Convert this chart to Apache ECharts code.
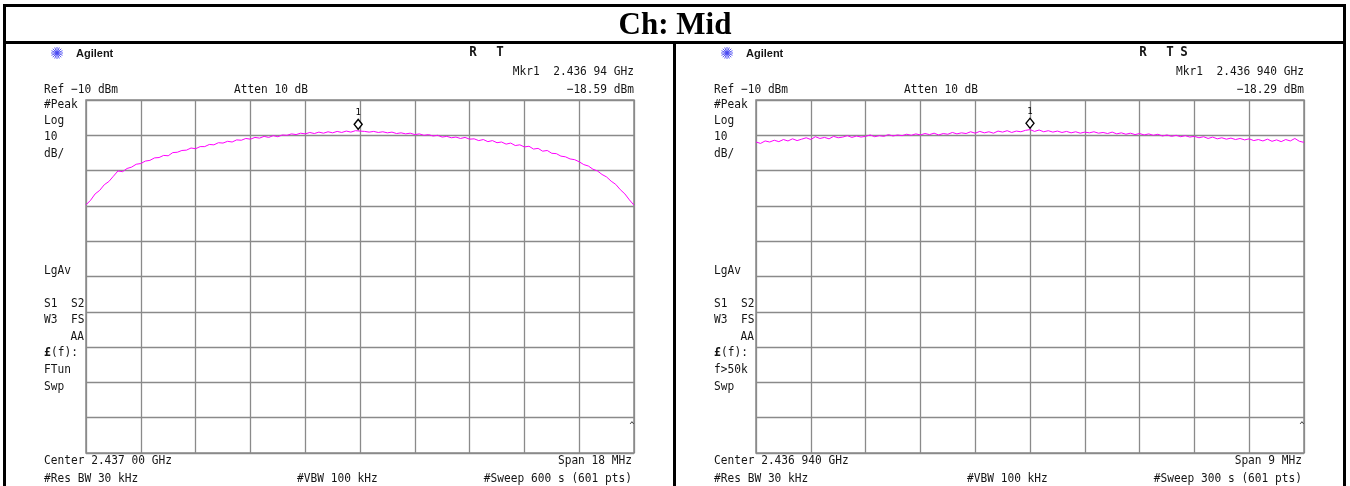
<!DOCTYPE html>
<html>
<head>
<meta charset="utf-8">
<script src="https://cdn.jsdelivr.net/npm/echarts@6/dist/echarts.min.js"></script>
<style>
  html, body { margin: 0; padding: 0; background: #fff; }
  #chart { width: 1350px; height: 486px; }
</style>
</head>
<body>
<div id="chart"></div>
<script>
// Spectrum analyzer sweeps, channel Mid. 601-point sweeps, one stored sample every 5 points.
const sweepPoints = 601;
const sampleStep = 5;

// Left sweep: span 18 MHz, trace levels in dBm
const leftTrace = [
  -39.7, -38.4, -36.6, -35.6, -34.0, -33.1, -31.6, -30.1, -30.3, -29.4,
  -29.0, -28.2, -28.0, -27.3, -27.1, -26.4, -26.3, -25.7, -25.8, -24.9,
  -24.8, -24.3, -24.2, -23.6, -23.8, -23.2, -23.2, -22.6, -22.7, -22.1,
  -22.2, -21.7, -21.9, -21.3, -21.4, -20.9, -21.1, -20.6, -20.8, -20.3,
  -20.6, -20.1, -20.4, -19.9, -20.0, -19.6, -19.8, -19.4, -19.6, -19.2,
  -19.5, -19.1, -19.4, -19.0, -19.3, -18.9, -19.2, -18.8, -19.1, -18.7,
  -18.8, -18.9, -19.1, -18.9, -19.2, -19.0, -19.3, -19.1, -19.5, -19.3,
  -19.6, -19.4, -19.8, -19.6, -20.0, -19.8, -20.2, -20.0, -20.5, -20.3,
  -20.7, -20.5, -20.9, -20.6, -21.1, -21.0, -21.5, -21.2, -21.8, -21.5,
  -22.1, -21.9, -22.5, -22.2, -22.9, -22.7, -23.3, -23.1, -23.9, -23.7,
  -24.5, -24.3, -25.1, -25.2, -25.9, -26.1, -26.7, -26.9, -27.5, -28.3,
  -28.7, -29.6, -30.1, -31.1, -31.8, -33.0, -33.9, -35.4, -36.6, -38.3,
  -39.8
];

// Right sweep: span 9 MHz, trace levels in dBm
const rightTrace = [
  -21.9, -22.3, -21.6, -21.9, -21.4, -21.8, -21.2, -21.6, -21.0, -21.5,
  -21.1, -20.7, -21.2, -20.4, -20.9, -20.6, -21.0, -20.3, -20.7, -20.5,
  -20.1, -20.6, -20.2, -20.5, -20.3, -19.9, -20.4, -20.1, -20.3, -19.8,
  -20.2, -19.9, -20.1, -19.7, -20.0, -19.6, -19.9, -19.5, -19.8, -19.4,
  -19.9, -19.5, -19.7, -19.2, -19.6, -19.3, -19.5, -19.0, -19.4, -18.9,
  -19.3, -19.0, -19.4, -18.8, -19.1, -18.7, -19.2, -18.8, -19.0, -18.6,
  -18.4, -18.9, -18.5, -19.0, -18.7, -19.1, -18.8, -19.2, -18.9, -19.3,
  -19.0, -19.4, -19.1, -19.3, -19.0, -19.4, -19.2, -19.5, -19.1, -19.6,
  -19.3, -19.7, -19.4, -19.8, -19.5, -19.9, -19.6, -20.0, -19.7, -20.2,
  -19.9, -20.3, -20.0, -20.4, -20.1, -20.5, -20.3, -20.7, -20.4, -20.9,
  -20.5, -21.0, -20.7, -21.1, -20.8, -21.2, -20.9, -21.3, -21.0, -21.5,
  -21.2, -21.6, -21.1, -21.7, -21.3, -21.8, -21.2, -21.6, -20.9, -21.7,
  -22.0
];

// Marker 1 readouts: sweep point and level (dBm)
const leftMarker = { point: 298, level: -18.59 };
const rightMarker = { point: 300, level: -18.29 };

// Display scale
const refLevel = -10;
const dbPerDiv = 10;
const divisions = 10;

// Annotation texts per panel
const leftInfo = {
  status: ['R', 'T'],
  mkrFreq: 'Mkr1  2.436 94 GHz',
  mkrLevel: '\u221218.59 dBm',
  func: 'FTun',
  center: 'Center 2.437 00 GHz',
  span: 'Span 18 MHz',
  sweep: '#Sweep 600 s (601 pts)'
};
const rightInfo = {
  status: ['R', 'T', 'S'],
  mkrFreq: 'Mkr1  2.436 940 GHz',
  mkrLevel: '\u221218.29 dBm',
  func: 'f>50k',
  center: 'Center 2.436 940 GHz',
  span: 'Span 9 MHz',
  sweep: '#Sweep 300 s (601 pts)'
};

const MONO = '11.2px "DejaVu Sans Mono", "Liberation Mono", monospace';
const INK = '#151515';
const GRID = '#8a8a8a';

function toSeries(values) {
  return values.map((v, i) => [i * sampleStep, v]);
}

function txt(x, y, text, opts) {
  opts = opts || {};
  return {
    type: 'text', silent: true,
    scaleY: opts.scaleY || 1.12,
    originX: x, originY: y,
    style: {
      x: x, y: y, text: text,
      font: opts.font || MONO,
      fill: opts.fill || INK,
      align: opts.align || 'left', textAlign: opts.align || 'left',
      verticalAlign: 'middle', textVerticalAlign: 'middle'
    }
  };
}

// Blue starburst logo
function star(cx, cy) {
  const spokes = [];
  const n = 8, r = 6;
  for (let k = 0; k < n; k++) {
    const a = Math.PI * k / n;
    const dx = Math.cos(a) * r, dy = Math.sin(a) * r;
    spokes.push({
      type: 'line', silent: true,
      shape: { x1: cx - dx, y1: cy - dy, x2: cx + dx, y2: cy + dy },
      style: { stroke: '#4a4af2', lineWidth: 0.9 }
    });
  }
  return spokes;
}

function panelGraphics(dx, info, gridLeft) {
  const g = [];
  g.push(...star(57 + dx, 53));
  g.push(txt(76 + dx, 54, 'Agilent', { font: 'bold 11px "Liberation Sans", Arial, sans-serif', scaleY: 1 }));
  // status letters
  const statusX = [473, 500, 514];
  info.status.forEach((s, i) => {
    g.push(txt(statusX[i] + dx, 52, s, { font: 'bold 12.5px "DejaVu Sans Mono", monospace', align: 'center' }));
  });
  g.push(txt(634 + dx, 72, info.mkrFreq, { align: 'right' }));
  g.push(txt(634 + dx, 90, info.mkrLevel, { align: 'right' }));
  g.push(txt(44 + dx, 90, 'Ref \u221210 dBm'));
  g.push(txt(234 + dx, 90, 'Atten 10 dB'));
  g.push(txt(44 + dx, 105, '#Peak'));
  g.push(txt(44 + dx, 121, 'Log'));
  g.push(txt(44 + dx, 137, '10'));
  g.push(txt(44 + dx, 154, 'dB/'));
  g.push(txt(44 + dx, 271, 'LgAv'));
  g.push(txt(44 + dx, 304, 'S1  S2'));
  g.push(txt(44 + dx, 320, 'W3  FS'));
  g.push(txt(84 + dx, 337, 'AA', { align: 'right' }));
  g.push(txt(44 + dx, 353, '\u00a3', { font: 'bold 11.5px "DejaVu Sans Mono", monospace' }));
  g.push(txt(51 + dx, 353, '(f):'));
  g.push(txt(44 + dx, 370, info.func));
  g.push(txt(44 + dx, 387, 'Swp'));
  g.push(txt(44 + dx, 461, info.center));
  g.push(txt(632 + dx, 461, info.span, { align: 'right' }));
  g.push(txt(44 + dx, 479, '#Res BW 30 kHz'));
  g.push(txt(297 + dx, 479, '#VBW 100 kHz'));
  g.push(txt(632 + dx, 479, info.sweep, { align: 'right' }));
  g.push(txt(gridLeft + 546, 426, '^', { font: '8px "DejaVu Sans Mono", monospace', align: 'center', scaleY: 1 }));
  return g;
}

function borders() {
  const rect = (x, y, w, h) => ({ type: 'rect', silent: true, shape: { x, y, width: w, height: h }, style: { fill: '#000' } });
  return [
    rect(3, 4, 1343, 3),      // top
    rect(3, 4, 3, 482),       // left
    rect(1343, 4, 3, 482),    // right
    rect(3, 41, 1343, 3),     // under title
    rect(673, 41, 3, 445)     // between panels
  ];
}

const grids = [
  { left: 86, top: 100, width: 548, height: 353 },
  { left: 756, top: 100, width: 548, height: 353 }
];

function xAxisFor(idx) {
  return {
    type: 'value', gridIndex: idx,
    min: 0, max: sweepPoints - 1, interval: (sweepPoints - 1) / divisions,
    axisLabel: { show: false }, axisTick: { show: false },
    axisLine: { show: false },
    splitLine: { show: true, lineStyle: { color: GRID, width: 1.3 } }
  };
}
function yAxisFor(idx) {
  return {
    type: 'value', gridIndex: idx,
    min: refLevel - dbPerDiv * divisions, max: refLevel, interval: dbPerDiv,
    axisLabel: { show: false }, axisTick: { show: false },
    axisLine: { show: false },
    splitLine: { show: true, lineStyle: { color: GRID, width: 1.3 } }
  };
}

function markerPoint(m) {
  return {
    symbol: 'diamond',
    symbolSize: [8, 10],
    symbolOffset: [0, -6],
    silent: true,
    itemStyle: { color: '#fff', borderColor: '#000', borderWidth: 1.4 },
    label: {
      show: true, formatter: '1', position: 'top', distance: 1,
      color: '#000', fontSize: 9, fontFamily: '"DejaVu Sans Mono", monospace'
    },
    data: [{ coord: [m.point, m.level] }]
  };
}

function traceSeries(idx, values, marker) {
  return {
    type: 'line', xAxisIndex: idx, yAxisIndex: idx,
    data: toSeries(values),
    showSymbol: false, symbol: 'none', silent: true,
    lineStyle: { color: '#ff00ff', width: 1 },
    markPoint: markerPoint(marker),
    z: 3
  };
}

const chart = echarts.init(document.getElementById('chart'), null, { renderer: 'canvas' });
chart.setOption({
  animation: false,
  backgroundColor: '#fff',
  title: {
    text: 'Ch: Mid', left: 'center', top: 5,
    textStyle: { fontFamily: '"Liberation Serif", "Times New Roman", serif', fontWeight: 'bold', fontSize: 31, color: '#000' }
  },
  grid: grids.map(g => Object.assign({ show: true, borderColor: GRID, borderWidth: 1.5, backgroundColor: 'transparent' }, g)),
  xAxis: [xAxisFor(0), xAxisFor(1)],
  yAxis: [yAxisFor(0), yAxisFor(1)],
  series: [
    traceSeries(0, leftTrace, leftMarker),
    traceSeries(1, rightTrace, rightMarker)
  ],
  graphic: [
    ...borders(),
    ...panelGraphics(0, leftInfo, 86),
    ...panelGraphics(670, rightInfo, 756)
  ]
});
</script>
</body>
</html>
